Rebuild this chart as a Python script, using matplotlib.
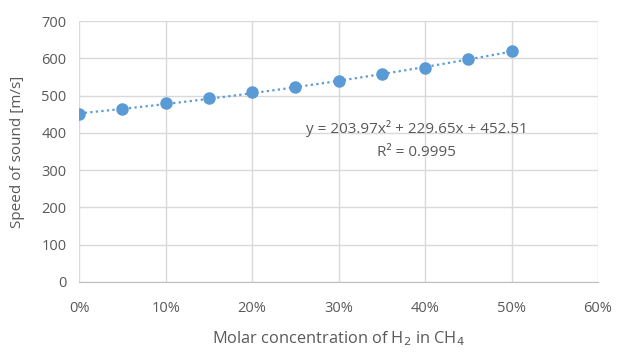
import matplotlib.pyplot as plt
import numpy as np
from matplotlib.ticker import PercentFormatter

# data
conc = [0.00, 0.05, 0.10, 0.15, 0.20, 0.25, 0.30, 0.35, 0.40, 0.45, 0.50]
speed = [452, 465, 480, 494, 509, 523, 540, 558, 574, 597, 621]
coef = [203.97, 229.65, 452.51]  # trendline y = a x^2 + b x + c
r2 = 0.9995

plt.rcParams['font.family'] = ['Open Sans', 'DejaVu Sans']
txt = '#595959'
blue = '#5b9bd5'

fig = plt.figure(figsize=(6.19, 3.52), dpi=100)
ax = fig.add_axes([0.128, 0.199, 0.838, 0.741])

xs = np.linspace(0, 0.5, 100)
ax.plot(xs, np.polyval(coef, xs), color=blue, lw=1.6, ls=(0, (1, 1.5)), zorder=3)
ax.plot(conc, speed, 'o', color=blue, ms=8, zorder=4)

ax.set_xlim(0, 0.6)
ax.set_ylim(0, 700)
ax.set_xticks(np.arange(0, 0.61, 0.1))
ax.set_yticks(np.arange(0, 701, 100))
ax.xaxis.set_major_formatter(PercentFormatter(1.0, decimals=0))
ax.grid(True, color='#d9d9d9', lw=1)
ax.set_axisbelow(True)
for s in ['top', 'right', 'left']:
    ax.spines[s].set_visible(False)
ax.spines['bottom'].set_color('#bfbfbf')
ax.tick_params(length=0, colors=txt, labelsize=10.5)
ax.tick_params(axis='x', pad=14)
ax.tick_params(axis='y', pad=9)

ax.set_xlabel('Molar concentration of H$_2$ in CH$_4$', color=txt, fontsize=11.8, labelpad=9)
ax.set_ylabel('Speed of sound [m/s]', color=txt, fontsize=11, labelpad=12)

ax.text(0.39, 413, 'y = %.2fx² + %.2fx + %.2f' % tuple(coef), ha='center', va='center',
        color=txt, fontsize=11)
ax.text(0.39, 348, 'R² = %.4f' % r2, ha='center', va='center', color=txt, fontsize=11)

fig.savefig('out.png', dpi=100)
